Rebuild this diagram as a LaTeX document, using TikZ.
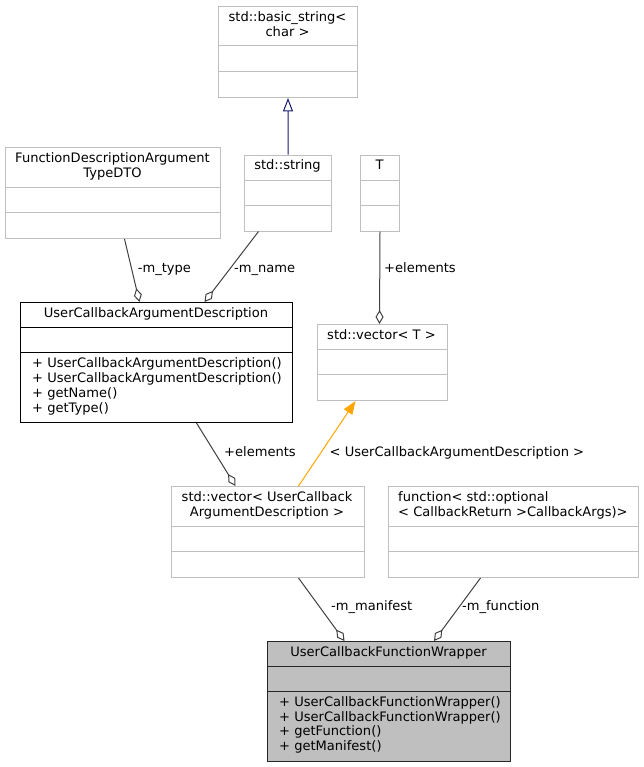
\documentclass[tikz,border=0pt]{standalone}
\usepackage{fontspec}
\setmainfont{DejaVu Sans}
\usetikzlibrary{arrows.meta}
\definecolor{boxgrey}{HTML}{BFBFBF}
\definecolor{edgegrey}{HTML}{404040}
\definecolor{navyblue}{HTML}{191970}
\definecolor{orangeA}{HTML}{FFA500}
\definecolor{mainfill}{HTML}{BFBFBF}
\newcommand{\lblfont}{\fontsize{13.1}{14.7}\selectfont}
\tikzset{
  umlbox/.style={draw=boxgrey, line width=1bp, inner sep=0, anchor=north west, fill=white},
  docbox/.style={draw=black, line width=1bp, inner sep=0, anchor=north west, fill=white},
  mainbox/.style={draw=black!85, line width=1bp, inner sep=0, anchor=north west, fill=mainfill},
  txt/.style={font=\lblfont, inner sep=0, text height=9.9bp, text depth=3bp},
  ltxt/.style={txt, anchor=west},
  ctxt/.style={txt, anchor=center},
  aggr/.style={draw=edgegrey, line width=1bp, -{Diamond[open, length=14bp, width=8bp, line width=1bp]}},
  inherit/.style={draw=navyblue, line width=1bp, -{Triangle[open, length=13.3bp, width=10bp, line width=1bp]}},
  templ/.style={draw=orangeA, line width=1bp, -{Triangle[length=13.3bp, width=10bp]}},
}
\begin{document}
\begin{tikzpicture}[x=1bp, y=-1bp]
\useasboundingbox (0,0) rectangle (644,767);

% std::basic_string<char>
\node[umlbox, minimum width=139bp, minimum height=91bp] (bstr) at (218,6) {};
\draw[boxgrey, line width=1bp] (218,46) -- (357,46) (218,71) -- (357,71);
\node[ctxt] (bstrA) at (287.5,18) {std::basic\_string<};
\node[ctxt] (bstrB) at (287.5,33) {char >};

% FunctionDescriptionArgumentTypeDTO
\node[umlbox, minimum width=215bp, minimum height=91bp] (fdat) at (5,147) {};
\draw[boxgrey, line width=1bp] (5,187) -- (220,187) (5,212.5) -- (220,212.5);
\node[ctxt] (fdatA) at (112.5,159) {FunctionDescriptionArgument};
\node[ctxt] (fdatB) at (112.5,174) {TypeDTO};

% std::string
\node[umlbox, minimum width=87bp, minimum height=76bp] (str) at (244,154.5) {};
\draw[boxgrey, line width=1bp] (244,180.3) -- (331,180.3) (244,205.3) -- (331,205.3);
\node[ctxt] (strA) at (287.5,166.5) {std::string};

% T
\node[umlbox, minimum width=39bp, minimum height=76bp] (T) at (360,154.5) {};
\draw[boxgrey, line width=1bp] (360,180.3) -- (399,180.3) (360,205.3) -- (399,205.3);
\node[ctxt] (TA) at (379.5,166.5) {T};

% UserCallbackArgumentDescription
\node[docbox, minimum width=272bp, minimum height=120bp] (ucad) at (20,302) {};
\draw[black, line width=1bp] (20,327.3) -- (292,327.3) (20,352.3) -- (292,352.3);
\node[ctxt] (ucadA) at (156,314) {UserCallbackArgumentDescription};
\node[ltxt] (ucadM1) at (32,364.5) {+ UserCallbackArgumentDescription()};
\node[ltxt] (ucadM2) at (32,379.2) {+ UserCallbackArgumentDescription()};
\node[ltxt] (ucadM3) at (32,393.9) {+ getName()};
\node[ltxt] (ucadM4) at (32,408.6) {+ getType()};

% std::vector<T>
\node[umlbox, minimum width=130bp, minimum height=76bp] (vecT) at (316.5,324) {};
\draw[boxgrey, line width=1bp] (316.5,349.7) -- (446.5,349.7) (316.5,374.7) -- (446.5,374.7);
\node[ctxt] (vecTA) at (381.5,336) {std::vector< T >};

% std::vector<UserCallbackArgumentDescription>
\node[umlbox, minimum width=193bp, minimum height=91bp] (vecU) at (170.5,486) {};
\draw[boxgrey, line width=1bp] (170.5,526) -- (363.5,526) (170.5,551.3) -- (363.5,551.3);
\node[ctxt] (vecUA) at (267,498) {std::vector< UserCallback};
\node[ctxt] (vecUB) at (267,513) {ArgumentDescription >};

% function< ... >
\node[umlbox, minimum width=250bp, minimum height=91bp] (func) at (388,486) {};
\draw[boxgrey, line width=1bp] (388,526) -- (638,526) (388,551.3) -- (638,551.3);
\node[ltxt] (funcA) at (398,498) {function< std::optional};
\node[ltxt] (funcB) at (398,513) {< CallbackReturn >CallbackArgs)>};

% UserCallbackFunctionWrapper
\node[mainbox, minimum width=243bp, minimum height=120bp] (ucfw) at (267,641) {};
\draw[black!85, line width=1bp] (267,666) -- (510,666) (267,691) -- (510,691);
\node[ctxt] (ucfwA) at (388.5,653) {UserCallbackFunctionWrapper};
\node[ltxt] (ucfwM1) at (279,703.2) {+ UserCallbackFunctionWrapper()};
\node[ltxt] (ucfwM2) at (279,717.7) {+ UserCallbackFunctionWrapper()};
\node[ltxt] (ucfwM3) at (279,732.2) {+ getFunction()};
\node[ltxt] (ucfwM4) at (279,746.7) {+ getManifest()};

% connectors
\draw[inherit] (str.north) -- (bstr.south);
\draw[aggr] ([xshift=11.5bp]fdat.south) -- ([xshift=-17bp]ucad.north);
\draw[aggr] ([xshift=-29.5bp]str.south) -- ([xshift=48bp]ucad.north);
\draw[aggr] (T.south) -- ([xshift=-2.5bp]vecT.north);
\draw[aggr] ([xshift=40bp]ucad.south) -- ([xshift=-32bp]vecU.north);
\draw[templ] ([xshift=31bp]vecU.north) -- ([xshift=-26.5bp]vecT.south);
\draw[aggr] ([xshift=31bp]vecU.south) -- ([xshift=-44.5bp]ucfw.north);
\draw[aggr] ([xshift=-33bp]func.south) -- ([xshift=45bp]ucfw.north);

% labels
\node[ltxt] (l1) at (137.7,269) {-m\_type};
\node[ltxt] (l2) at (234,269) {-m\_name};
\node[ltxt] (l3) at (384,269) {+elements};
\node[ltxt] (l4) at (224,453) {+elements};
\node[ltxt] (l5) at (329.5,453) {< UserCallbackArgumentDescription >};
\node[ltxt] (l6) at (331,607.5) {-m\_manifest};
\node[ltxt] (l7) at (462,607.5) {-m\_function};
\end{tikzpicture}
\end{document}
